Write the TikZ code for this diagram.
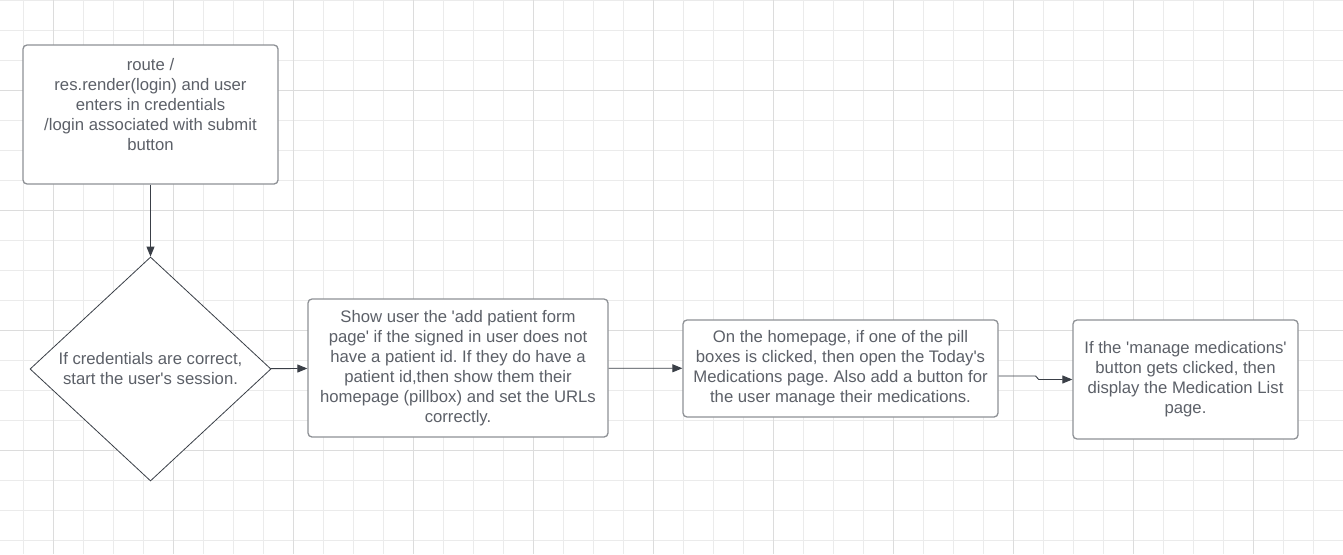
\documentclass[tikz,border=0pt]{standalone}
\usepackage{fontspec}
\setmainfont{Liberation Sans}[Ligatures=TeXOff]
\usetikzlibrary{shapes.geometric,arrows.meta}
\definecolor{gridminor}{HTML}{EBEBEB}
\definecolor{gridmajor}{HTML}{DCDCDC}
\definecolor{inktext}{HTML}{5C6068}
\definecolor{inkline}{HTML}{3A3F47}
\definecolor{boxline}{HTML}{8E9196}
\frenchspacing
\begin{document}
\begin{tikzpicture}[x=1pt,y=-1pt,
		box/.style={draw=boxline,line width=1.3pt,rounded corners=4pt,fill=white,align=center,text=inktext,inner sep=0pt,font=\fontsize{16.7}{20}\selectfont},
		decision/.style={diamond,draw=inkline,line width=0.8pt,fill=white,align=center,text=inktext,inner sep=0pt,minimum width=241pt,minimum height=224pt,font=\fontsize{16.7}{20}\selectfont},
		flow/.style={draw=inkline,line width=0.9pt,-{Triangle[length=10pt,width=8pt]}}]
		\useasboundingbox[fill=white] (0,0) rectangle (1343,554);
		% Grid
		\foreach \x in {23,53,...,1343}{
		\draw[gridminor,line width=0.8pt] (\x,0) -- (\x,554);
		}
		\foreach \y in {0,30,...,554}{
		\draw[gridminor,line width=0.8pt] (0,\y) -- (1343,\y);
		}
		% Heavier lines
		\foreach \x in {53,173,...,1343}{
		\draw[gridmajor,line width=0.9pt] (\x,0) -- (\x,554);
		}
		\foreach \y in {90,210,...,554}{
		\draw[gridmajor,line width=0.9pt] (0,\y) -- (1343,\y);
		}
		% Steps
		\node[box,minimum width=255pt,minimum height=139pt] (login) at (150.5,114.5) {route /\\res.render(login) and user\\enters in credentials\\/login associated with submit\\button\\\mbox{}};
		\node[decision] (check) at (150.5,369) {If credentials are correct,\\start the user's session.};
		\node[box,minimum width=300pt,minimum height=138pt] (patient) at (458,368) {Show user the 'add patient form\\page' if the signed in user does not\\have a patient id. If they do have a\\patient id,then show them their\\homepage (pillbox) and set the URLs\\correctly.};
		\node[box,minimum width=315pt,minimum height=97pt] (home) at (840.5,368.5) {On the homepage, if one of the pill\\boxes is clicked, then open the Today's\\Medications page. Also add a button for\\the user manage their medications.};
		\node[box,minimum width=225pt,minimum height=119pt] (medlist) at (1185.5,379.5) {If the 'manage medications'\\button gets clicked, then\\display the Medication List\\page.};
		% Arrows
		\draw[flow] (login) -- (check);
		\draw[flow] (check) -- (patient);
		\draw[flow] (patient) -- (home);
		\draw[flow] ([yshift=-7.5pt]home.east) -- ++(37,0) -- ++(3,3.5) -- (medlist.west);
	\end{tikzpicture}
\end{document}
